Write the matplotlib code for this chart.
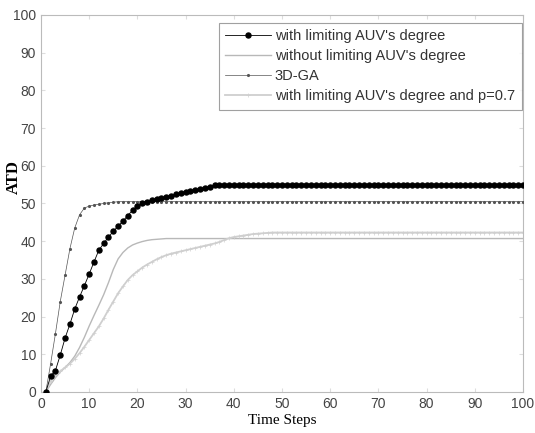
import matplotlib
matplotlib.use("Agg")
import matplotlib.pyplot as plt
import numpy as np

steps = np.arange(1, 101)

# average target detection per step for each strategy
limited = [0, 4.2, 5.7, 9.8, 14.3, 18.0, 22.0, 25.2, 28.2, 31.3,
           34.5, 37.6, 39.4, 41.1, 42.6, 44.0, 45.3, 46.8, 48.2, 49.3,
           50.0, 50.5, 50.9, 51.2, 51.5, 51.8, 52.1, 52.4, 52.7, 53.0,
           53.3, 53.6, 53.9, 54.2, 54.5, 54.8] + [55.0] * 64
without_limit = [0, 2.0, 3.8, 5.3, 6.5, 7.8, 9.5, 11.8, 14.5, 17.5,
                 20.3, 23.0, 25.8, 29.0, 32.5, 35.3, 37.0, 38.2, 39.0, 39.5,
                 39.9, 40.2, 40.4, 40.5, 40.6] + [40.7] * 75
ga3d = [0, 7.5, 15.5, 24.0, 31.0, 38.0, 43.5, 47.0, 48.8, 49.3,
        49.6, 49.8, 50.0, 50.2, 50.3] + [50.5] * 85
limited_p07 = [0, 3.0, 4.5, 5.5, 6.5, 7.5, 8.8, 10.3, 12.0, 13.8,
               15.6, 17.4, 19.5, 21.8, 24.0, 26.2, 28.0, 29.7, 31.0, 32.0,
               33.0, 33.8, 34.5, 35.2, 35.8, 36.3, 36.7, 37.0, 37.3, 37.6,
               37.9, 38.2, 38.5, 38.8, 39.1, 39.4, 39.8, 40.3, 40.8, 41.1,
               41.3, 41.5, 41.7, 41.9, 42.0, 42.1, 42.2] + [42.3] * 53

labels = ["with limiting AUV's degree", "without limiting AUV's degree",
          "3D-GA", "with limiting AUV's degree and p=0.7"]

plt.rcParams["font.family"] = ["Liberation Sans", "DejaVu Sans"]

fig = plt.figure(figsize=(5.35, 4.33), dpi=100)
ax = fig.add_axes([0.0766, 0.0947, 0.9010, 0.8707])

ax.plot(steps, limited, color="black", lw=0.6, marker="o", ms=3.6,
        label=labels[0], zorder=4)
ax.plot(steps, without_limit, color="#b8b8b8", lw=1.0, label=labels[1])
ax.plot(steps, ga3d, color="#555555", lw=0.5, marker=".", ms=2.5,
        label=labels[2], zorder=3)
ax.plot(steps, limited_p07, color="#cfcfcf", lw=1.3, marker="+", ms=2.5,
        mew=0.5, label=labels[3])

ax.set_xlim(0, 100)
ax.set_ylim(0, 100)
ax.set_xticks(np.arange(0, 101, 10))
ax.set_yticks(np.arange(0, 101, 10))
ax.tick_params(direction="in", top=True, right=True, length=3,
               color="#dddddd", labelcolor="#444444", labelsize=10)
for s in ax.spines.values():
    s.set_color("#bbbbbb")
    s.set_linewidth(0.8)

ax.set_xlabel("Time Steps", family="Liberation Serif", fontsize=11,
              color="black", labelpad=2)
ax.set_ylabel("ATD", family="Liberation Serif", fontsize=12,
              fontweight="bold", color="black")
ax.yaxis.set_label_coords(-0.04, 0.57)

leg = ax.legend(loc="upper right", bbox_to_anchor=(0.997, 0.98),
                fontsize=10.5, frameon=True, fancybox=False,
                handlelength=3.1, labelspacing=0.42, borderpad=0.45,
                handletextpad=0.3, borderaxespad=0)
leg.get_frame().set_edgecolor("#888888")
leg.get_frame().set_linewidth(0.8)
for t in leg.get_texts():
    t.set_color("#333333")

fig.savefig("out.png", dpi=100)
